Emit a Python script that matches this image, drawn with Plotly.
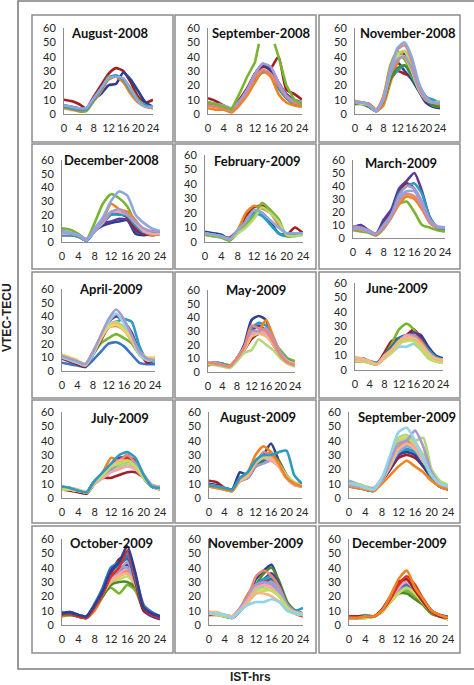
import plotly.graph_objects as go

# ---------------- data (VTEC in TECU vs IST hours) ----------------
HOURS = [0, 2, 4, 6, 8, 10, 12, 14, 16, 18, 20, 22, 24]
X_TICKS = [0, 4, 8, 12, 16, 20, 24]
Y_TICKS = [0, 10, 20, 30, 40, 50, 60]

TITLES = ["August-2008", "September-2008", "November-2008",
          "December-2008", "February-2009", "March-2009",
          "April-2009", "May-2009", "June-2009",
          "July-2009", "August-2009", "September-2009",
          "October-2009", "November-2009", "December-2009"]

AUG08 = [[10, 9, 7, 4, 12, 20, 28, 32, 30, 22, 12, 8, 10],
         [6, 5, 4, 3, 10, 14, 20, 21, 29, 24, 16, 8, 5],
         [5, 4, 2, 2, 9, 16, 26, 26, 24, 18, 10, 6, 4],
         [4, 3, 2, 3, 9, 16, 24, 26, 22, 14, 8, 5, 4],
         [5, 4, 3, 3, 10, 17, 25, 27, 24, 16, 9, 6, 5],
         [6, 5, 4, 4, 11, 18, 25, 26, 25, 17, 9, 5, 5]]
AUG08_C = ["darkred", "navy", "green", "orange", "teal", "lightblue"]

SEP08 = [[11, 9, 6, 3, 10, 18, 28, 33, 32, 40, 17, 14, 10],
         [8, 7, 5, 2, 8, 16, 28, 34, 30, 20, 12, 8, 7],
         [7, 6, 5, 3, 9, 17, 28, 35, 32, 22, 14, 10, 8],
         [6, 5, 4, 2, 8, 14, 24, 29, 28, 18, 11, 7, 6],
         [4, 3, 3, 1, 6, 13, 22, 30, 26, 14, 8, 6, 5],
         [6, 5, 4, 2, 8, 15, 26, 31, 28, 20, 12, 8, 7],
         [8, 7, 6, 4, 9, 17, 28, 35, 33, 22, 13, 9, 8]]
SEP08_C = ["darkred", "navy", "purple", "teal", "orange", "salmon", "lavender"]
SEP08_GREEN_HOURS = [0, 2, 4, 6, 8, 10, 12, 13, 15, 17, 18, 20, 22, 24]
SEP08_GREEN = [8, 7, 5, 3, 14, 26, 36, 49, None, 49, 40, 20, 10, 7]

NOV08 = [[8, 7, 5, 2, 10, 28, 36, 30, 24, 16, 8, 5, 4],
         [8, 8, 7, 3, 10, 24, 30, 28, 26, 18, 10, 7, 7],
         [7, 8, 6, 2, 12, 34, 44, 38, 30, 20, 12, 6, 5],
         [7, 8, 6, 3, 9, 26, 38, 42, 34, 20, 12, 7, 6],
         [9, 8, 6, 2, 10, 26, 30, 34, 26, 18, 12, 10, 8],
         [8, 7, 6, 2, 6, 22, 36, 44, 35, 18, 10, 8, 6],
         [7, 7, 5, 2, 9, 24, 32, 34, 28, 17, 10, 6, 5],
         [9, 8, 6, 3, 10, 28, 40, 40, 30, 17, 10, 8, 9],
         [8, 7, 6, 2, 11, 30, 42, 44, 32, 18, 10, 8, 8],
         [8, 8, 6, 2, 10, 28, 38, 40, 32, 18, 10, 8, 7],
         [9, 8, 7, 3, 12, 32, 45, 48, 38, 20, 11, 8, 7],
         [8, 8, 6, 2, 10, 30, 46, 50, 40, 22, 12, 8, 8]]
NOV08_C = ["navy", "darkred", "green", "purple", "teal", "orange",
           "darkgreen", "yellowgreen", "lightgreen", "lavender", "salmon", "lightblue"]

DEC08 = [[10, 9, 6, 2, 14, 28, 35, 32, 26, 14, 8, 7, 6],
         [7, 6, 5, 2, 8, 12, 14, 15, 16, 6, 5, 6, 7],
         [8, 6, 5, 1, 9, 14, 15, 17, 16, 8, 6, 6, 7],
         [5, 5, 4, 1, 8, 14, 20, 21, 18, 10, 6, 5, 6],
         [6, 5, 4, 1, 9, 16, 28, 24, 22, 16, 8, 5, 6],
         [5, 5, 4, 1, 8, 14, 20, 20, 19, 12, 7, 6, 7],
         [6, 6, 5, 2, 8, 14, 22, 22, 20, 14, 8, 6, 6],
         [7, 6, 5, 2, 8, 15, 22, 24, 20, 15, 10, 8, 8],
         [8, 7, 5, 1, 10, 18, 30, 37, 34, 20, 14, 10, 8]]
DEC08_C = ["green", "navy", "purple", "darkred", "orange", "teal",
           "pink", "lavender", "lightblue"]

FEB09 = [[6, 5, 4, 3, 8, 18, 24, 25, 22, 14, 5, 10, 6],
         [5, 4, 4, 2, 8, 20, 25, 23, 20, 12, 5, 6, 5],
         [7, 6, 5, 2, 7, 14, 22, 20, 14, 6, 5, 6, 6],
         [6, 5, 4, 1, 7, 14, 20, 18, 12, 6, 4, 5, 6],
         [5, 4, 3, 1, 6, 12, 18, 27, 22, 16, 4, 4, 5],
         [6, 5, 4, 2, 6, 10, 16, 24, 20, 14, 5, 4, 5],
         [6, 5, 4, 2, 8, 14, 22, 20, 15, 10, 6, 6, 6]]
FEB09_C = ["darkred", "orange", "navy", "teal", "green", "lightgreen", "lightblue"]

MAR09 = [[6, 5, 4, 2, 7, 16, 26, 28, 20, 10, 8, 6, 5],
         [9, 8, 6, 3, 12, 20, 36, 42, 38, 25, 12, 8, 8],
         [7, 6, 5, 2, 8, 16, 26, 32, 30, 22, 12, 8, 7],
         [8, 7, 5, 3, 8, 16, 28, 34, 32, 24, 12, 8, 8],
         [8, 10, 6, 3, 14, 22, 38, 44, 50, 36, 16, 8, 7],
         [7, 8, 5, 3, 10, 18, 34, 40, 42, 34, 16, 8, 7],
         [7, 7, 5, 3, 10, 18, 30, 36, 36, 26, 14, 9, 8],
         [9, 8, 6, 3, 9, 17, 32, 40, 38, 28, 14, 8, 8]]
MAR09_C = ["green", "darkred", "orange", "salmon", "purple", "teal", "lightblue", "lavender"]

APR09 = [[6, 5, 4, 3, 8, 14, 20, 21, 18, 12, 6, 5, 5],
         [10, 8, 6, 4, 12, 20, 24, 27, 24, 20, 12, 8, 8],
         [9, 7, 5, 3, 12, 22, 32, 34, 32, 26, 14, 6, 8],
         [10, 8, 6, 4, 13, 24, 36, 40, 36, 28, 14, 8, 8],
         [10, 8, 6, 4, 12, 24, 34, 36, 38, 36, 18, 8, 7],
         [11, 9, 7, 5, 14, 24, 32, 36, 30, 22, 12, 8, 10],
         [10, 8, 6, 4, 13, 23, 32, 33, 30, 24, 13, 8, 9],
         [11, 9, 7, 5, 13, 24, 34, 36, 32, 24, 14, 9, 9],
         [11, 9, 7, 5, 14, 25, 33, 35, 30, 22, 12, 8, 9],
         [10, 8, 6, 4, 12, 24, 36, 42, 35, 24, 12, 8, 8],
         [12, 10, 8, 5, 14, 24, 32, 34, 30, 24, 14, 10, 10],
         [11, 9, 7, 5, 14, 26, 38, 45, 38, 26, 14, 9, 8]]
APR09_C = ["medblue", "green", "darkred", "purple", "teal", "orange",
           "salmon", "lightgreen", "peach", "lightcyan", "yellow", "lavender"]

MAY09 = [[6, 7, 6, 4, 10, 20, 38, 41, 38, 24, 14, 8, 5],
         [6, 6, 5, 4, 9, 16, 24, 28, 28, 20, 12, 8, 6],
         [5, 6, 6, 5, 9, 16, 26, 30, 28, 22, 16, 10, 8],
         [5, 6, 5, 4, 10, 18, 30, 34, 30, 22, 14, 8, 5],
         [7, 6, 6, 4, 10, 18, 32, 36, 34, 24, 14, 9, 6],
         [5, 6, 5, 4, 10, 18, 28, 30, 38, 26, 14, 8, 5],
         [6, 6, 5, 4, 10, 18, 28, 30, 30, 24, 14, 8, 6],
         [6, 6, 5, 3, 9, 17, 28, 30, 28, 22, 14, 8, 5],
         [6, 7, 5, 4, 10, 18, 30, 30, 32, 24, 14, 8, 6],
         [7, 6, 5, 4, 10, 16, 26, 28, 26, 20, 12, 8, 6],
         [6, 5, 4, 3, 8, 14, 16, 24, 20, 16, 10, 6, 4],
         [7, 6, 5, 4, 10, 18, 34, 32, 30, 22, 12, 7, 5]]
MAY09_C = ["navy", "darkred", "green", "purple", "teal", "orange",
           "lightblue", "pink", "lavender", "peach", "lightgreen", "salmon"]

JUN09 = [[8, 7, 6, 5, 10, 14, 20, 24, 26, 24, 16, 10, 8],
         [6, 7, 5, 4, 12, 20, 22, 24, 28, 22, 14, 8, 5],
         [7, 8, 5, 4, 10, 18, 28, 32, 28, 20, 12, 8, 6],
         [6, 6, 5, 4, 10, 16, 20, 22, 26, 22, 14, 8, 6],
         [6, 7, 6, 5, 8, 14, 22, 20, 24, 20, 14, 9, 7],
         [8, 7, 5, 4, 9, 14, 18, 22, 24, 20, 12, 8, 6],
         [7, 8, 6, 4, 10, 16, 22, 24, 22, 18, 12, 8, 6],
         [7, 6, 5, 4, 8, 12, 16, 16, 18, 14, 10, 6, 5],
         [7, 7, 5, 4, 9, 14, 18, 24, 24, 18, 12, 7, 6],
         [7, 6, 5, 4, 8, 12, 18, 22, 20, 14, 8, 6, 5],
         [6, 6, 5, 4, 8, 12, 18, 20, 20, 16, 10, 6, 5],
         [8, 7, 6, 4, 9, 14, 20, 24, 22, 18, 12, 8, 7],
         [9, 8, 6, 4, 10, 14, 20, 22, 22, 18, 12, 8, 7]]
JUN09_C = ["navy", "darkred", "green", "purple", "teal", "orange", "darkteal",
           "lightcyan", "lavender", "lightgreen", "yellowgreen", "pink", "peach"]

JUL09 = [[6, 5, 4, 3, 10, 14, 14, 16, 18, 18, 14, 8, 6],
         [7, 7, 5, 4, 12, 16, 22, 26, 30, 24, 14, 8, 6],
         [6, 6, 5, 4, 12, 16, 20, 22, 26, 22, 14, 8, 7],
         [8, 6, 5, 4, 12, 16, 22, 28, 28, 26, 16, 9, 7],
         [7, 6, 5, 4, 12, 18, 28, 26, 28, 24, 14, 9, 8],
         [7, 6, 5, 4, 12, 16, 20, 24, 28, 26, 16, 8, 6],
         [7, 7, 5, 4, 12, 16, 20, 22, 24, 22, 14, 8, 7],
         [7, 6, 5, 4, 10, 16, 22, 26, 30, 24, 14, 8, 7],
         [6, 6, 5, 4, 10, 14, 18, 22, 24, 22, 14, 9, 7],
         [8, 7, 6, 4, 12, 16, 22, 26, 26, 24, 14, 9, 8],
         [7, 6, 5, 4, 12, 16, 20, 24, 26, 24, 16, 9, 7],
         [6, 6, 5, 4, 10, 14, 18, 20, 22, 20, 14, 8, 6],
         [6, 6, 5, 4, 11, 16, 22, 24, 26, 22, 14, 8, 6],
         [8, 7, 5, 4, 12, 18, 24, 30, 32, 28, 16, 8, 7]]
JUL09_C = ["darkred", "navy", "green", "purple", "orange", "red", "darkteal",
           "salmon", "lightgreen", "peach", "lavender", "pink", "yellowgreen", "teal"]

AUG09 = [[12, 11, 7, 6, 12, 14, 22, 28, 30, 24, 14, 10, 9],
         [10, 9, 7, 6, 18, 16, 26, 30, 38, 26, 14, 10, 10],
         [8, 8, 6, 5, 13, 16, 24, 28, 32, 24, 16, 10, 8],
         [9, 8, 6, 5, 14, 16, 24, 26, 30, 26, 16, 10, 9],
         [9, 8, 6, 5, 13, 15, 22, 26, 30, 26, 16, 10, 9],
         [8, 8, 6, 5, 12, 15, 24, 26, 28, 24, 14, 10, 8],
         [8, 7, 6, 5, 12, 15, 26, 30, 28, 24, 14, 9, 8],
         [8, 8, 6, 5, 12, 14, 22, 24, 26, 22, 14, 10, 10],
         [9, 8, 6, 5, 13, 16, 26, 28, 26, 22, 14, 9, 8],
         [8, 7, 6, 5, 12, 15, 24, 28, 28, 24, 16, 11, 9],
         [9, 8, 7, 5, 13, 16, 24, 32, 30, 24, 14, 10, 8],
         [8, 7, 6, 5, 12, 16, 24, 30, 28, 22, 14, 10, 9],
         [8, 7, 6, 5, 14, 18, 30, 36, 32, 24, 14, 10, 8],
         [9, 8, 7, 6, 14, 18, 26, 30, 30, 32, 33, 16, 10]]
AUG09_C = ["darkred", "navy", "green", "purple", "darkgreen", "darkteal",
           "lightblue", "lavender", "pink", "lightgreen", "salmon", "peach",
           "orange", "teal"]

SEP09 = [[8, 7, 6, 5, 12, 20, 28, 30, 28, 22, 14, 8, 6],
         [8, 8, 6, 5, 12, 20, 30, 32, 30, 22, 14, 8, 6],
         [8, 8, 6, 5, 12, 22, 30, 34, 32, 28, 16, 9, 7],
         [9, 8, 6, 5, 12, 22, 32, 34, 32, 26, 14, 9, 7],
         [9, 8, 7, 6, 13, 24, 36, 40, 36, 30, 18, 10, 8],
         [8, 7, 6, 5, 10, 16, 22, 26, 22, 18, 12, 8, 6],
         [12, 10, 8, 7, 14, 24, 32, 36, 34, 28, 16, 10, 8],
         [10, 9, 7, 6, 13, 24, 36, 38, 36, 30, 18, 10, 8],
         [9, 8, 7, 6, 12, 22, 34, 38, 34, 26, 16, 10, 8],
         [10, 9, 7, 6, 14, 26, 38, 42, 36, 28, 16, 10, 8],
         [10, 9, 7, 6, 13, 26, 40, 42, 38, 30, 18, 11, 9],
         [10, 10, 8, 6, 14, 28, 42, 44, 40, 42, 20, 12, 9],
         [9, 8, 7, 6, 12, 26, 38, 40, 47, 36, 18, 10, 8],
         [10, 9, 7, 6, 14, 30, 46, 49, 40, 28, 16, 10, 8]]
SEP09_C = ["darkred", "navy", "purple", "teal", "green", "orange", "lightblue",
           "salmon", "peach", "pink", "yellowgreen", "lightgreen", "lavender", "lightcyan"]

OCT09 = [[7, 7, 6, 5, 12, 22, 26, 22, 28, 24, 10, 7, 5],
         [6, 7, 6, 5, 10, 20, 30, 34, 36, 26, 12, 8, 6],
         [7, 8, 6, 5, 12, 20, 30, 32, 34, 28, 12, 8, 6],
         [7, 7, 6, 5, 12, 20, 28, 30, 30, 26, 11, 7, 5],
         [8, 8, 7, 5, 13, 22, 32, 36, 38, 28, 11, 8, 6],
         [8, 8, 6, 5, 12, 22, 32, 36, 40, 30, 12, 8, 6],
         [7, 8, 6, 5, 12, 22, 30, 34, 36, 28, 12, 8, 6],
         [8, 8, 6, 5, 13, 22, 34, 38, 42, 30, 10, 6, 4],
         [8, 9, 7, 6, 14, 24, 36, 40, 40, 30, 12, 8, 6],
         [9, 8, 7, 6, 14, 24, 38, 42, 46, 32, 12, 8, 6],
         [8, 9, 7, 6, 13, 24, 34, 38, 44, 30, 12, 8, 5],
         [8, 8, 6, 5, 13, 24, 36, 46, 48, 30, 10, 7, 5],
         [9, 8, 7, 6, 15, 26, 40, 44, 50, 32, 12, 8, 6],
         [8, 8, 7, 5, 14, 26, 40, 42, 48, 34, 14, 9, 6],
         [7, 8, 6, 5, 12, 22, 34, 40, 52, 34, 12, 7, 5],
         [8, 9, 7, 6, 14, 24, 38, 44, 55, 36, 12, 8, 6]]
OCT09_C = ["green", "orange", "yellowgreen", "darkgreen", "salmon", "pink",
           "peach", "purple", "lightblue", "darkteal", "lavender", "darkred",
           "teal", "medblue", "red", "navy"]

NOV09 = [[8, 8, 7, 6, 10, 20, 32, 38, 42, 28, 14, 10, 8],
         [7, 8, 7, 6, 10, 18, 28, 36, 40, 30, 16, 10, 8],
         [7, 8, 6, 5, 10, 18, 28, 32, 36, 28, 14, 9, 7],
         [8, 8, 7, 6, 11, 18, 28, 32, 34, 26, 14, 10, 12],
         [8, 8, 6, 5, 10, 18, 26, 30, 32, 26, 14, 9, 7],
         [7, 7, 6, 5, 10, 18, 26, 30, 30, 24, 12, 8, 6],
         [8, 8, 7, 6, 12, 22, 28, 26, 24, 20, 12, 8, 7],
         [9, 8, 7, 6, 12, 20, 34, 38, 34, 26, 14, 9, 8],
         [8, 8, 7, 6, 11, 18, 24, 28, 30, 24, 14, 9, 8],
         [8, 8, 7, 6, 12, 20, 28, 30, 28, 22, 14, 9, 8],
         [9, 8, 7, 6, 11, 18, 26, 28, 26, 20, 12, 9, 8],
         [8, 7, 6, 5, 10, 16, 24, 26, 24, 20, 12, 8, 7],
         [9, 8, 7, 6, 10, 16, 22, 24, 24, 20, 12, 8, 7],
         [9, 9, 7, 6, 10, 16, 22, 22, 20, 16, 10, 8, 7],
         [8, 8, 7, 5, 10, 14, 16, 16, 18, 16, 10, 8, 7]]
NOV09_C = ["navy", "darkgreen", "purple", "teal", "darkteal", "red", "orange",
           "salmon", "lightblue", "lavender", "pink", "lightgreen", "yellowgreen",
           "peach", "lightcyan"]

DEC09 = [[5, 5, 5, 6, 10, 16, 22, 24, 20, 14, 8, 6, 4],
         [6, 6, 6, 6, 10, 18, 28, 30, 24, 16, 10, 6, 5],
         [5, 5, 6, 6, 10, 18, 26, 28, 22, 16, 9, 6, 5],
         [6, 6, 7, 6, 10, 18, 26, 28, 26, 18, 10, 7, 5],
         [5, 5, 5, 6, 9, 16, 22, 22, 18, 14, 8, 6, 4],
         [5, 5, 6, 6, 10, 18, 24, 26, 22, 16, 10, 7, 5],
         [5, 5, 6, 6, 10, 17, 24, 26, 22, 16, 9, 6, 5],
         [6, 6, 6, 6, 10, 18, 26, 28, 24, 18, 10, 7, 6],
         [5, 5, 6, 6, 10, 18, 26, 30, 24, 16, 9, 6, 5],
         [5, 5, 5, 6, 9, 16, 22, 26, 22, 15, 9, 6, 4],
         [6, 6, 6, 6, 10, 18, 28, 32, 24, 16, 10, 6, 5],
         [6, 6, 6, 6, 11, 20, 30, 32, 24, 16, 9, 6, 5],
         [6, 5, 6, 6, 10, 18, 28, 34, 28, 18, 10, 7, 5],
         [5, 5, 6, 6, 10, 20, 32, 38, 26, 18, 10, 7, 5]]
DEC09_C = ["green", "navy", "purple", "teal", "darkgreen", "lightblue",
           "lavender", "medblue", "pink", "yellowgreen", "salmon", "darkred",
           "red", "orange"]

PANEL_DATA = [AUG08, SEP08, NOV08, DEC08, FEB09, MAR09, APR09, MAY09, JUN09,
              JUL09, AUG09, SEP09, OCT09, NOV09, DEC09]
PANEL_COLORS = [AUG08_C, SEP08_C, NOV08_C, DEC08_C, FEB09_C, MAR09_C, APR09_C,
                MAY09_C, JUN09_C, JUL09_C, AUG09_C, SEP09_C, OCT09_C, NOV09_C, DEC09_C]

# ---------------- styling ----------------
COLOR = {
    "navy": "#2B3F94", "darkred": "#A31F24", "green": "#7AB530", "purple": "#5B3A96",
    "teal": "#2A9CC2", "orange": "#F2821F", "lightblue": "#8CA8DC", "salmon": "#E88478",
    "lightgreen": "#B4D77A", "lavender": "#A898D0", "lightcyan": "#8FD4E8",
    "peach": "#F7B585", "red": "#D8312A", "yellowgreen": "#C8DC5C", "pink": "#F0A6B4",
    "darkgreen": "#4A8A2A", "darkteal": "#1E7A96", "medblue": "#3C74C6", "yellow": "#E6D85A",
}

W, H = 474, 685
# per panel pixel geometry: x of hour 0, x of hour 24, y of 60, y of 0
GEOM = [(64, 153, 28, 114), (208, 302, 28, 114), (355, 440, 28, 114),
        (62, 160, 160, 242), (205, 303, 155, 242), (353, 445, 160, 238),
        (62, 155, 289, 371), (208, 295, 290, 372), (355, 443, 283, 370),
        (62, 160, 412, 498), (209, 302, 412, 498), (349, 448, 412, 498),
        (62, 160, 539, 625), (209, 303, 539, 625), (349, 448, 539, 625)]
TITLE_POS = [(109, 33), (261, 33), (408, 33),
             (111, 160), (257, 161), (401, 163),
             (111, 289), (256, 290), (397, 288),
             (120, 418), (257, 417), (407, 417),
             (111, 543), (256, 543), (399, 543)]
COL_BOX = [(32, 173), (175, 316), (319, 460)]
ROW_BOX = [(15, 142), (144, 269), (272, 398), (400, 523), (526, 653)]

FONT = "Lato, 'Open Sans', sans-serif"
GRAY = "#8c8c8c"

fig = go.Figure()
layout = dict(
    width=W, height=H, margin=dict(l=0, r=0, t=0, b=0, autoexpand=False),
    paper_bgcolor="white", plot_bgcolor="rgba(0,0,0,0)",
    showlegend=False, shapes=[], annotations=[],
    font=dict(family=FONT, color="#262626"),
)


def add_line(idx, xs, ys, cname, shape="spline"):
    fig.add_trace(go.Scatter(
        x=xs, y=ys, mode="lines",
        line=dict(color=COLOR[cname], width=2.6, shape=shape, smoothing=0.6),
        connectgaps=False, hoverinfo="skip",
        xaxis="x" if idx == 1 else f"x{idx}",
        yaxis="y" if idx == 1 else f"y{idx}",
    ))


for i in range(15):
    idx = i + 1
    for series, cname in zip(PANEL_DATA[i], PANEL_COLORS[i]):
        add_line(idx, HOURS, series, cname)
    if i == 1:
        add_line(idx, SEP08_GREEN_HOURS, SEP08_GREEN, "green", shape="linear")

    x0, x24, y60, y0 = GEOM[i]
    xk = "xaxis" if idx == 1 else f"xaxis{idx}"
    yk = "yaxis" if idx == 1 else f"yaxis{idx}"
    layout[xk] = dict(
        domain=[x0 / W, x24 / W], range=[0, 24], anchor="y" if idx == 1 else f"y{idx}",
        tickvals=X_TICKS, tickangle=0, showgrid=False, zeroline=False, showline=True,
        linecolor=GRAY, linewidth=1, ticks="", ticklabelstandoff=4,
        tickfont=dict(size=11, family=FONT, color="#262626"), fixedrange=True,
    )
    layout[yk] = dict(
        domain=[1 - y0 / H, 1 - y60 / H], range=[0, 60], anchor="x" if idx == 1 else f"x{idx}",
        tickvals=Y_TICKS, showgrid=False, zeroline=False, showline=True,
        linecolor=GRAY, linewidth=1, ticks="", ticklabelstandoff=5,
        tickfont=dict(size=11, family=FONT, color="#262626"), fixedrange=True,
    )
    tx, ty = TITLE_POS[i]
    layout["annotations"].append(dict(
        text=f"<b>{TITLES[i]}</b>", x=tx / W, y=1 - ty / H, xref="paper", yref="paper",
        xanchor="center", yanchor="middle", showarrow=False,
        font=dict(size=13, family=FONT, color="#111111"),
    ))

# panel boxes
for r, (yt, yb) in enumerate(ROW_BOX):
    for c, (xl, xr) in enumerate(COL_BOX):
        layout["shapes"].append(dict(
            type="rect", xref="paper", yref="paper",
            x0=xl / W, x1=xr / W, y0=1 - yb / H, y1=1 - yt / H,
            line=dict(color=GRAY, width=1.5), fillcolor="rgba(0,0,0,0)", layer="below",
        ))
# outer frame
layout["shapes"].append(dict(
    type="rect", xref="paper", yref="paper",
    x0=18 / W, x1=480 / W, y0=1 - 669 / H, y1=1 - 1 / H,
    line=dict(color="#7f7f7f", width=1.6), fillcolor="rgba(0,0,0,0)", layer="below",
))

layout["annotations"].append(dict(
    text="<b>VTEC-TECU</b>", x=7 / W, y=1 - 318 / H, xref="paper", yref="paper",
    xanchor="center", yanchor="middle", textangle=-90, showarrow=False,
    font=dict(size=12, family="Liberation Sans, Arial, sans-serif", color="#222222"),
))
layout["annotations"].append(dict(
    text="<b>IST-hrs</b>", x=250 / W, y=1 - 677 / H, xref="paper", yref="paper",
    xanchor="center", yanchor="middle", showarrow=False,
    font=dict(size=12, family="Liberation Sans, Arial, sans-serif", color="#222222"),
))

fig.update_layout(**layout)
fig.write_html(
    "out.html",
    config={"displayModeBar": False, "staticPlot": True},
    post_script="document.body.style.margin='0';document.body.style.overflow='hidden';",
)
